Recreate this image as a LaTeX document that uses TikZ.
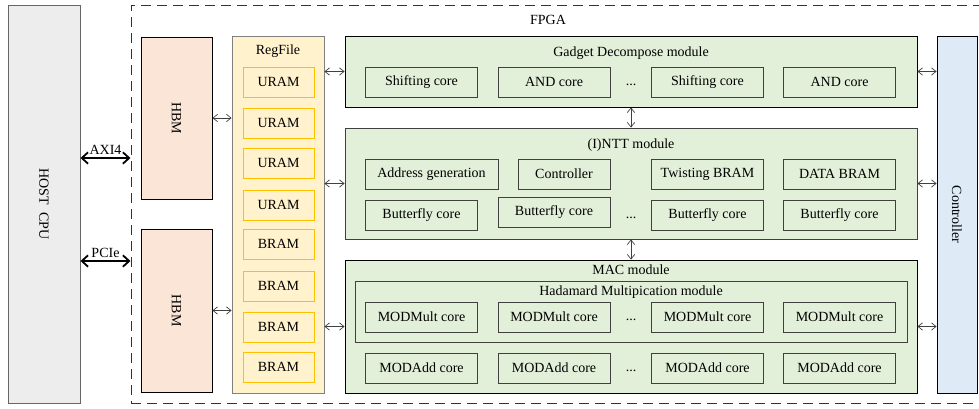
\documentclass[tikz,border=0pt]{standalone}
\usepackage{fontspec}
\setmainfont{Liberation Serif}
\usepackage{xcolor}
\usepackage{tikz}
\usetikzlibrary{arrows.meta, positioning, shapes}

\definecolor{hostgray}{HTML}{EDEDED}
\definecolor{hbmfill}{HTML}{FBE5D6}
\definecolor{regfill}{HTML}{FFF2CC}
\definecolor{ramline}{HTML}{FFC000}
\definecolor{modfill}{HTML}{E2F0D9}
\definecolor{ctrlfill}{HTML}{DEEBF7}
\definecolor{edge}{HTML}{404040}

\begin{document}
\begin{tikzpicture}[
    x=1pt, y=-1pt,
    font=\fontsize{14}{16}\selectfont,
    block/.style={rectangle, draw=edge, line width=0.9pt, inner sep=0pt, text centered},
    ram/.style={rectangle, draw=ramline, line width=0.9pt, fill=regfill, minimum width=71pt, minimum height=30pt, inner sep=0pt},
    core/.style={rectangle, draw=edge, line width=0.8pt, fill=modfill, minimum width=112pt, minimum height=30pt, inner sep=0pt},
    module/.style={block, fill=modfill, minimum width=572pt},
    arrow/.style={{Straight Barb[length=1.6mm, width=2.6mm]}-{Straight Barb[length=1.6mm, width=2.6mm]}, draw=edge, line width=0.7pt},
    bus/.style={{Straight Barb[length=2.2mm, width=4mm]}-{Straight Barb[length=2.2mm, width=4mm]}, line width=1.8pt}
]
\useasboundingbox (0,0) rectangle (979,408);
\clip (0,0) rectangle (979,408);

% Nodes
\node[block, fill=hostgray, draw=gray!80!black, minimum width=72pt, minimum height=398pt] (host) at (44,204) {};
\node[rotate=-90] (hostlab) at (host.center) {HOST~~CPU};
\node[rectangle, draw=gray!40!black, dash pattern=on 10pt off 6pt, line width=1pt, minimum width=859pt, minimum height=398pt] (fpga) at (560.5,204) {};
\node (fpgalab) at (548,20) {FPGA};

\node[block, fill=hbmfill, draw=black, minimum width=71pt, minimum height=162pt] (hbmA) at (176.5,118) {};
\node[rotate=-90] at (hbmA.center) {HBM};
\node[block, fill=hbmfill, draw=black, minimum width=71pt, minimum height=163pt] (hbmB) at (176.5,310.5) {};
\node[rotate=-90] at (hbmB.center) {HBM};

\node[block, fill=regfill, draw=gray, minimum width=92pt, minimum height=357pt] (regfile) at (278,214.5) {};
\node[below=6pt of regfile.north] (reglab) {RegFile};
\foreach \name/\y/\txt in {ramA/82/URAM, ramB/123/URAM, ramC/163/URAM, ramD/205/URAM,
                           ramE/244/BRAM, ramF/286/BRAM, ramG/327/BRAM, ramH/367/BRAM}
  \node[ram] (\name) at (278.5,\y) {\txt};

\node[block, fill=ctrlfill, draw=black, minimum width=40pt, minimum height=357pt] (ctrl) at (957,214.5) {};
\node[rotate=-90] at (ctrl.center) {Controller};

% Gadget Decompose module
\node[module, draw=black, minimum height=71pt] (gadget) at (631,71.5) {};
\node[below=8pt of gadget.north] (gadgetlab) {Gadget Decompose module};
\node[core] (gdA) at (421.5,82) {Shifting core};
\node[core] (gdB) at (554,82) {AND core};
\node (gdDots) at (631,85) {...};
\node[core] (gdC) at (707.5,82) {Shifting core};
\node[core] (gdD) at (839.5,82) {AND core};

% (I)NTT module
\node[module, minimum height=111pt] (ntt) at (631,183.5) {};
\node[below=8pt of ntt.north] (nttlab) {(I)NTT module};
\node[core, minimum width=133pt] (addr) at (431.5,174) {Address generation};
\node[core, minimum width=92pt] (nttctrl) at (564,174) {Controller};
\node[core] (twist) at (707.5,174) {Twisting BRAM};
\node[core] (data) at (839.5,174) {DATA BRAM};
\node[core] (bfA) at (421.5,215) {Butterfly core};
\node[core] (bfB) at (554,212.5) {Butterfly core};
\node (bfDots) at (631,218) {...};
\node[core] (bfC) at (707.5,215) {Butterfly core};
\node[core] (bfD) at (839.5,215) {Butterfly core};

% MAC module
\node[module, draw=black, minimum height=133pt] (mac) at (631,326.5) {};
\node[below=2pt of mac.north] (maclab) {MAC module};
\node[block, draw=edge, minimum width=552pt, minimum height=61pt] (hada) at (631,311.5) {};
\node[below=2pt of hada.north] (hadalab) {Hadamard Multipication module};
\node[core] (mulA) at (421.5,317) {MODMult core};
\node[core] (mulB) at (554,317) {MODMult core};
\node (mulDots) at (631,320) {...};
\node[core] (mulC) at (707.5,317) {MODMult core};
\node[core] (mulD) at (839.5,317) {MODMult core};
\node[core] (addA) at (421.5,368) {MODAdd core};
\node[core] (addB) at (554,368) {MODAdd core};
\node (addDots) at (631,371) {...};
\node[core] (addC) at (707.5,368) {MODAdd core};
\node[core] (addD) at (839.5,368) {MODAdd core};

% Arrows
\coordinate (axi) at (0,158);
\coordinate (pcie) at (0,261);
\draw[bus] (host.east |- axi) -- node[above=-1pt] {AXI4} (fpga.west |- axi);
\draw[bus] (host.east |- pcie) -- node[above=-1pt] {PCIe} (fpga.west |- pcie);

\draw[arrow] (hbmA.east) -- (hbmA.east -| regfile.west);
\draw[arrow] (hbmB.east) -- (hbmB.east -| regfile.west);

\draw[arrow] (regfile.east |- gadget.west) -- (gadget.west);
\draw[arrow] (regfile.east |- ntt.west) -- (ntt.west);
\draw[arrow] (regfile.east |- mac.west) -- (mac.west);

\draw[arrow] (gadget.east) -- (gadget.east -| ctrl.west);
\draw[arrow] (ntt.east) -- (ntt.east -| ctrl.west);
\draw[arrow] (mac.east) -- (mac.east -| ctrl.west);

\draw[arrow] (gadget.south) -- (ntt.north);
\draw[arrow] (ntt.south) -- (mac.north);

\end{tikzpicture}
\end{document}
